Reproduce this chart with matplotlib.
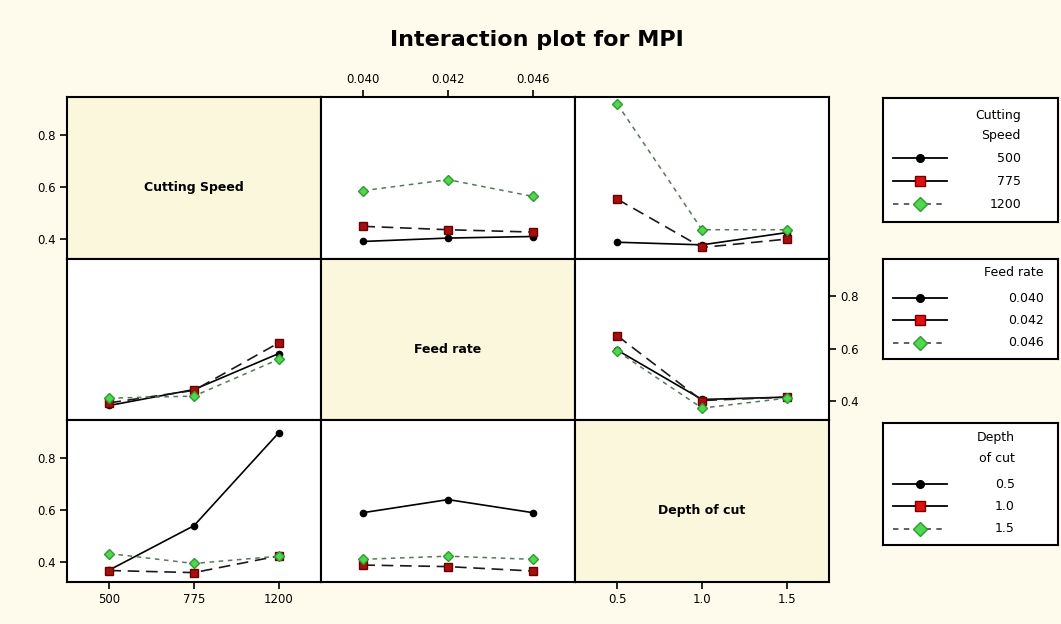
import matplotlib
matplotlib.use("Agg")
import matplotlib.pyplot as plt
import numpy as np

# ---------------- data ----------------
factor_names = ["Cutting Speed", "Feed rate", "Depth of cut"]
legend_titles = ["Cutting\nSpeed", "Feed rate", "Depth\nof cut"]
speed_levels = ["500", "775", "1200"]
feed_levels = ["0.040", "0.042", "0.046"]
depth_levels = ["0.5", "1.0", "1.5"]

# mean MPI: rows = level of trace factor, cols = level of x-axis factor
mpi_speed_by_feed = [[0.391, 0.404, 0.410],
                     [0.449, 0.436, 0.427],
                     [0.586, 0.628, 0.564]]
mpi_speed_by_depth = [[0.388, 0.378, 0.425],
                      [0.553, 0.368, 0.400],
                      [0.918, 0.436, 0.436]]
mpi_feed_by_speed = [[0.382, 0.443, 0.581],
                     [0.392, 0.440, 0.622],
                     [0.410, 0.418, 0.559]]
mpi_feed_by_depth = [[0.594, 0.405, 0.414],
                     [0.649, 0.401, 0.414],
                     [0.590, 0.372, 0.410]]
mpi_depth_by_speed = [[0.371, 0.541, 0.897],
                      [0.369, 0.361, 0.425],
                      [0.434, 0.396, 0.424]]
mpi_depth_by_feed = [[0.591, 0.641, 0.591],
                     [0.390, 0.384, 0.367],
                     [0.412, 0.424, 0.412]]

y_ticks = [0.4, 0.6, 0.8]
y_tick_labels = ["0.4", "0.6", "0.8"]

# ---------------- styles ----------------
FIG_BG = "#fefbec"
DIAG_BG = "#fbf7dd"
styles = [
    dict(color="black", linestyle="-", lw=1.2, marker="o", ms=4.5,
         mfc="black", mec="black"),
    dict(color="#1a1a1a", linestyle=(0, (7, 4)), lw=1.2, marker="s", ms=5.5,
         mfc="#a50f0f", mec="#6a0000"),
    dict(color="#5a765a", linestyle=(0, (3, 3)), lw=1.1, marker="D", ms=5.5,
         mfc="#4fd84f", mec="#2f9a2f"),
]
legend_styles = [
    dict(color="black", linestyle="-", lw=1.3, marker="o", ms=5.5,
         mfc="black", mec="black"),
    dict(color="black", linestyle="-", lw=1.3, marker="s", ms=7,
         mfc="#e01010", mec="#700000"),
    dict(color="#555555", linestyle=(0, (3, 3)), lw=1.3, marker="D", ms=7,
         mfc="#4fd84f", mec="#2f9a2f"),
]

levels = [speed_levels, feed_levels, depth_levels]
panels = {
    (0, 1): mpi_speed_by_feed,
    (0, 2): mpi_speed_by_depth,
    (1, 0): mpi_feed_by_speed,
    (1, 2): mpi_feed_by_depth,
    (2, 0): mpi_depth_by_speed,
    (2, 1): mpi_depth_by_feed,
}

plt.rcParams["font.family"] = ["DejaVu Sans"]

W, H = 1061, 624
fig = plt.figure(figsize=(W / 100, H / 100), dpi=100, facecolor=FIG_BG)

left, right, top, bottom = 67 / W, 829 / W, 1 - 97 / H, 1 - 582 / H
gs = fig.add_gridspec(3, 3, left=left, right=right, top=top, bottom=bottom,
                      wspace=0, hspace=0)

ylim = (0.325, 0.945)
xlim = (-0.5, 2.5)
for i in range(3):
    for j in range(3):
        ax = fig.add_subplot(gs[i, j])
        ax.set_xlim(*xlim)
        ax.set_ylim(*ylim)
        for s in ax.spines.values():
            s.set_linewidth(1.5)
            s.set_color("black")
        ax.tick_params(axis="both", direction="out", length=5, width=1.2,
                       labelsize=8.5, pad=3, colors="black")
        ax.set_xticks([])
        ax.set_yticks([])
        x = np.arange(3)
        if i == j:
            ax.set_facecolor(DIAG_BG)
            ax.text(0.5, 0.44, factor_names[i], transform=ax.transAxes,
                    ha="center", va="center", fontsize=9, fontweight="bold")
        else:
            ax.set_facecolor("white")
            data = panels[(i, j)]
            for k in range(3):
                ax.plot(x, data[k], **styles[k])
        # x ticks
        if (i == 2 and j == 0) or (i == 2 and j == 2):
            ax.set_xticks(x)
            ax.set_xticklabels(levels[j])
        if i == 0 and j == 1:
            ax.xaxis.tick_top()
            ax.set_xticks(x)
            ax.set_xticklabels(levels[j])
        # y ticks
        if j == 0 and i in (0, 2):
            ax.set_yticks(y_ticks)
            ax.set_yticklabels(y_tick_labels)
        if i == 1 and j == 2:
            ax.yaxis.tick_right()
            ax.set_yticks(y_ticks)
            ax.set_yticklabels(y_tick_labels)

fig.text(537 / W, 1 - 40 / H, "Interaction plot for MPI", ha="center",
         va="center", fontsize=16, fontweight="bold")

# ---------------- legends ----------------
leg_boxes = [  # (x0, top, width, height) in pixels
    (883, 98, 175, 124),
    (883, 259, 175, 100),
    (883, 423, 175, 122),
]
title_rows = [[115, 135], [273], [438, 458]]
entry_rows = [[158, 181, 204], [298, 320, 343], [484, 506, 529]]
label_right = [1021, 1044, 1015]

for b in range(3):
    x0, t, w, h = leg_boxes[b]
    lax = fig.add_axes([x0 / W, 1 - (t + h) / H, w / W, h / H])
    lax.set_xlim(0, w)
    lax.set_ylim(t + h, t)
    lax.set_xticks([])
    lax.set_yticks([])
    lax.set_facecolor("white")
    for s in lax.spines.values():
        s.set_linewidth(1.5)
    lines = legend_titles[b].split("\n")
    for ln, yy in zip(lines, title_rows[b]):
        lax.text(label_right[b] - x0, yy, ln, ha="right", va="center",
                 fontsize=9)
    for k in range(3):
        yy = entry_rows[b][k]
        lax.plot([10, 37, 64], [yy, yy, yy], markevery=[1], **legend_styles[k])
        lax.text(label_right[b] - x0, yy, levels[b][k], ha="right",
                 va="center", fontsize=9)

fig.savefig("out.png", dpi=100, facecolor=FIG_BG)
